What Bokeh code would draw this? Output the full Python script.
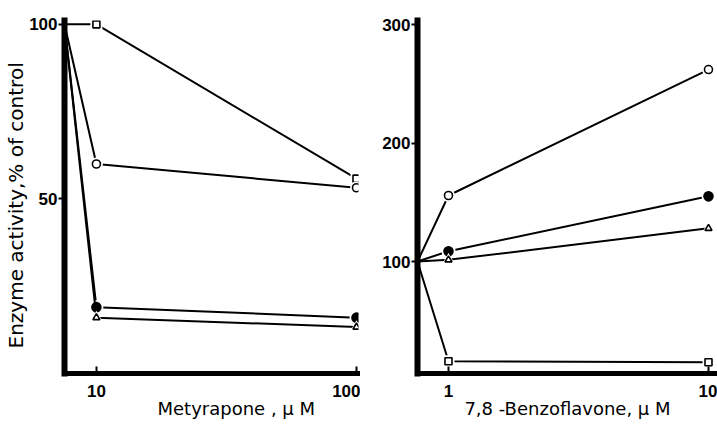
from bokeh.plotting import figure
from bokeh.layouts import row
from bokeh.models import FixedTicker, Range1d, Title
from bokeh.embed import file_html
from bokeh.resources import INLINE

# Enzyme activity (% of control) versus inhibitor concentration (uM)
control_activity = 100

# Metyrapone panel
met_conc = [10, 100]
met_open_square = [100, 55.8]
met_open_circle = [60, 53.2]
met_filled_circle = [19, 16]
met_open_triangle = [16, 13.3]
met_xticks = [10, 100]
met_yticks = [50, 100]

# 7,8-Benzoflavone panel
bnf_conc = [1, 10]
bnf_open_circle = [155.7, 262]
bnf_filled_circle = [108.7, 155]
bnf_open_triangle = [101.4, 128]
bnf_open_square = [15.9, 15]
bnf_xticks = [1, 10]
bnf_yticks = [100, 200, 300]

TICK_FONT = "Liberation Sans"
LABEL_FONT = "DejaVu Sans"

MARKERS = {
    "open_square": dict(marker="square", size=7, fill_color="white"),
    "open_circle": dict(marker="circle", size=8, fill_color="white"),
    "filled_circle": dict(marker="circle", size=9, fill_color="black"),
    "open_triangle": dict(marker="triangle", size=7, fill_color="white"),
}


def make_panel(width, x_range, y_range, borders, xticks, yticks):
    left, right, top, bottom = borders
    p = figure(width=width, height=425, x_axis_type="log",
               x_range=Range1d(*x_range), y_range=Range1d(*y_range),
               output_backend="svg", toolbar_location=None,
               min_border_left=left, min_border_right=right,
               min_border_top=top, min_border_bottom=bottom)
    p.outline_line_color = None
    p.grid.visible = False
    p.background_fill_color = "white"
    p.border_fill_color = "white"

    p.xaxis.ticker = FixedTicker(ticks=xticks, minor_ticks=[])
    p.yaxis.ticker = FixedTicker(ticks=yticks, minor_ticks=[])
    p.xaxis.major_label_overrides = {t: f"{t:g}" for t in xticks}
    for ax in (p.xaxis[0], p.yaxis[0]):
        ax.axis_line_color = "black"
        ax.axis_line_cap = "square"
        ax.major_tick_line_color = "black"
        ax.major_tick_line_width = 2
        ax.minor_tick_line_color = None
        ax.major_label_text_font = TICK_FONT
        ax.major_label_text_font_style = "bold"
        ax.major_label_text_font_size = "17px"
        ax.major_label_text_color = "black"
    p.xaxis.axis_line_width = 5
    p.yaxis.axis_line_width = 6
    p.xaxis.major_tick_in = 7
    p.xaxis.major_tick_out = 0
    p.xaxis.major_label_standoff = 11
    p.yaxis.major_tick_in = 0
    p.yaxis.major_tick_out = 6
    p.yaxis.major_label_standoff = 1
    return p


def axis_title(text, size="18px", standoff=0, **kw):
    return Title(text=text, text_font=LABEL_FONT, text_font_style="normal",
                 text_font_size=size, text_color="black", standoff=standoff, **kw)


def add_series(p, x0, conc, values, kind):
    xs = [x0] + list(conc)
    ys = [control_activity] + list(values)
    p.line(xs, ys, line_color="black", line_width=2)
    style = MARKERS[kind]
    # white halo leaves a small gap where the line meets the symbol
    p.scatter(list(conc), list(values), marker=style["marker"],
              size=style["size"] + 5, fill_color="white", line_color=None)
    p.scatter(list(conc), list(values), marker=style["marker"],
              size=style["size"], fill_color=style["fill_color"],
              line_color="black", line_width=1.6)


# Left: metyrapone
met_xr = (7.54, 101.8)
left = make_panel(360, met_xr, (0, 101.1), (64, 2, 20, 48), met_xticks, met_yticks)
add_series(left, met_xr[0], met_conc, met_open_square, "open_square")
add_series(left, met_xr[0], met_conc, met_open_circle, "open_circle")
add_series(left, met_xr[0], met_conc, met_filled_circle, "filled_circle")
add_series(left, met_xr[0], met_conc, met_open_triangle, "open_triangle")
left.add_layout(axis_title("Enzyme activity,% of control", size="20px", standoff=-3,
                           align="left", offset=25), "left")
left.add_layout(axis_title("Metyrapone , μ M", standoff=-3, align="left", offset=93,
                           vertical_align="top"), "below")

# Right: 7,8-benzoflavone
bnf_xr = (0.76, 10.83)
right = make_panel(357, bnf_xr, (5.5, 303.4), (57, 0, 20, 52), bnf_xticks, bnf_yticks)
add_series(right, bnf_xr[0], bnf_conc, bnf_open_circle, "open_circle")
add_series(right, bnf_xr[0], bnf_conc, bnf_filled_circle, "filled_circle")
add_series(right, bnf_xr[0], bnf_conc, bnf_open_triangle, "open_triangle")
add_series(right, bnf_xr[0], bnf_conc, bnf_open_square, "open_square")
right.add_layout(axis_title("7,8 -Benzoflavone, μ M", standoff=-3, align="center",
                            vertical_align="top"), "below")

layout = row(left, right)
open("out.html", "w").write(file_html(layout, INLINE))
